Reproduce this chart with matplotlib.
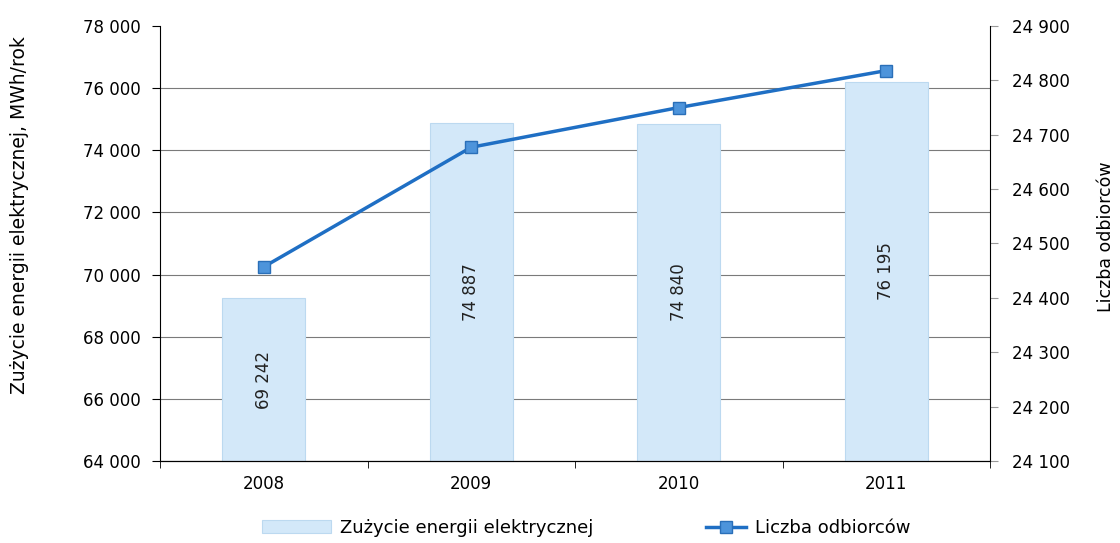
import matplotlib
matplotlib.use('Agg')
import matplotlib.pyplot as plt
from matplotlib.ticker import FuncFormatter

years = ['2008', '2009', '2010', '2011']
consumption = [69242, 74887, 74840, 76195]
customers = [24457, 24677, 24750, 24818]

left_ticks = [64000, 66000, 68000, 70000, 72000, 74000, 76000, 78000]
right_ticks = [24100, 24200, 24300, 24400, 24500, 24600, 24700, 24800, 24900]


def fmt(v, pos=None):
    return '{:,}'.format(int(v)).replace(',', ' ')


plt.rcParams['font.family'] = ['DejaVu Sans']
fig = plt.figure(figsize=(11.2, 5.43), dpi=100)
ax = fig.add_axes([160 / 1120, 1 - 461 / 543, 830 / 1120, 435 / 543])

x = list(range(len(years)))
bars = ax.bar(x, consumption, width=0.4, color='#d3e8f9', edgecolor='#bcd9f0',
              linewidth=0.8, label='Zużycie energii elektrycznej', zorder=2)
for xi, v in zip(x, consumption):
    ax.text(xi, (64000 + v) / 2, fmt(v), rotation=90, ha='center', va='center',
            fontsize=12, color='#222222', zorder=3)

ax.set_ylim(64000, 78000)
ax.set_xlim(-0.5, 3.5)
ax.set_yticks(left_ticks)
ax.yaxis.set_major_formatter(FuncFormatter(fmt))
ax.yaxis.grid(True, color='#7a7a7a', linewidth=0.8, zorder=0)
ax.get_ygridlines()[-1].set_visible(False)
ax.set_axisbelow(True)
ax.set_xticks(x)
ax.set_xticklabels(years)
ax.set_xticks([-0.5, 0.5, 1.5, 2.5, 3.5], minor=True)
ax.tick_params(axis='x', which='major', length=0, pad=10, labelsize=12)
ax.tick_params(axis='x', which='minor', length=5, direction='out')
ax.tick_params(axis='y', length=6, direction='out', labelsize=12, pad=8)
ax.spines['top'].set_visible(False)
ax.spines['right'].set_visible(False)
fig.text(20 / 1120, 1 - 215 / 543, 'Zużycie energii elektrycznej, MWh/rok',
         rotation=90, ha='center', va='center', fontsize=13.5)

ax2 = ax.twinx()
line, = ax2.plot(x, customers, color='#1f6fc4', linewidth=2.5, marker='s',
                 markersize=9, markerfacecolor='#4d94db', markeredgecolor='#2a6fb8',
                 label='Liczba odbiorców', zorder=4)
ax2.set_ylim(24100, 24900)
ax2.set_yticks(right_ticks)
ax2.yaxis.set_major_formatter(FuncFormatter(fmt))
ax2.tick_params(axis='y', length=6, direction='out', labelsize=12, pad=10,
                color='#999999')
ax2.spines['top'].set_visible(False)
ax2.spines['left'].set_visible(False)
fig.text(1106 / 1120, 1 - 237 / 543, 'Liczba odbiorców',
         rotation=90, ha='center', va='center', fontsize=12.5)

fig.legend([bars], ['Zużycie energii elektrycznej'],
           loc='center left', bbox_to_anchor=(246 / 1120, 1 - 528 / 543),
           frameon=False, fontsize=13, handlelength=3.8, handletextpad=0.5)
fig.legend([line], ['Liczba odbiorców'],
           loc='center left', bbox_to_anchor=(690 / 1120, 1 - 528 / 543),
           frameon=False, fontsize=13, handlelength=2.2, handletextpad=0.5)

fig.savefig('out.png', dpi=100)
